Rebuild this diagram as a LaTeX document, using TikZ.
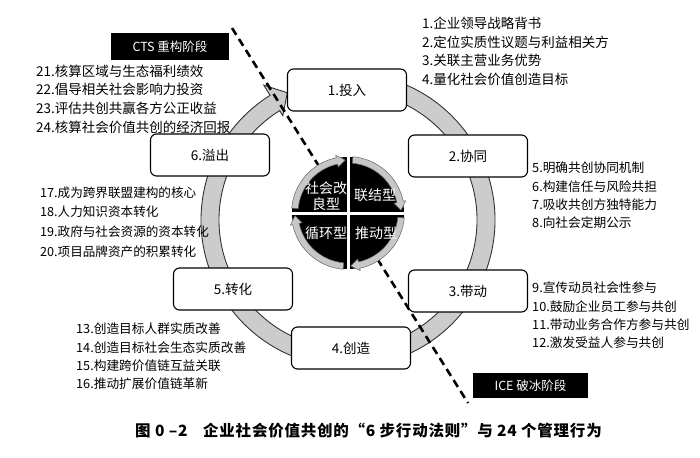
\documentclass[tikz,border=0pt]{standalone}
\usepackage{fontspec}
\setmainfont{Noto Sans CJK SC}
\begin{document}
\begin{tikzpicture}[x=1pt,y=-1pt,
  stepbox/.style={draw=black,line width=1.1pt,rounded corners=6pt,fill=white,minimum width=119pt,minimum height=42pt,inner sep=0pt,font=\fontsize{13.5}{16}\selectfont},
  listtext/.style={anchor=west,align=left,inner sep=0pt,font=\fontsize{13.5}{18.7}\selectfont},
  smalllist/.style={listtext,font=\fontsize{12.7}{18.4}\selectfont},
  phase/.style={fill=black,text=white,inner sep=0pt,font=\fontsize{12.5}{15}\selectfont},
  disctext/.style={text=white,align=center,inner sep=0pt,font=\fontsize{14}{17}\selectfont},
  ringfill/.style={fill=black!20,draw=black!80,line width=0.9pt},
  discrim/.style={fill=black!22,draw=black!60,line width=0.5pt},
  divider/.style={line width=2.6pt,dash pattern=on 8pt off 5pt},
  captext/.style={anchor=west,inner sep=0pt,font=\bfseries\fontsize{15.5}{18}\selectfont\addfontfeature{LetterSpace=5}}]
\useasboundingbox (0,0) rectangle (700,457);
\fill[white] (0,0) rectangle (700,457);

% big cycle ring with arrow head
\begin{scope}[shift={(348,220)}]
  \path[ringfill] (-80:147) arc[start angle=-80,end angle=238,radius=147]
    -- (238:159) -- (244.5:141) -- (238:123) -- (238:129)
    arc[start angle=238,end angle=-80,radius=129] -- cycle;
\end{scope}

% dashed divider
\coordinate (dA) at (232,28);
\coordinate (dB) at (468,403);
\draw[divider] (dA) -- (dB);

% central disc
\begin{scope}[shift={(348,213)}]
  \fill[black] (0,0) circle[radius=56];
  \foreach \a in {180,270,0,90}{
    \pgfmathsetmacro{\sa}{\a+5}
    \pgfmathsetmacro{\ea}{\a+78}
    \pgfmathsetmacro{\ta}{\a+87}
    \path[discrim] (\sa:56.5) arc[start angle=\sa,end angle=\ea,radius=56.5]
      -- (\ea:59) -- (\ta:53) -- (\ea:47) -- (\ea:50)
      arc[start angle=\ea,end angle=\sa,radius=50] -- cycle;
  }
  \draw[white,line width=3pt] (-60,0) -- (60,0) (0,-60) -- (0,60);
\end{scope}
\node[disctext] (q1) at (326,196) {社会改\\[-1pt]良型};
\node[disctext] (q2) at (375,195) {联结型};
\node[disctext] (q3) at (326,233) {循环型};
\node[disctext] (q4) at (376,233) {推动型};

% step boxes
\node[stepbox] (s1) at (347,90) {1.投入};
\node[stepbox] (s2) at (468,156) {2.协同};
\node[stepbox] (s3) at (468,291) {3.带动};
\node[stepbox] (s4) at (351,348) {4.创造};
\node[stepbox] (s5) at (233,289) {5.转化};
\node[stepbox] (s6) at (210,155) {6.溢出};

% lists
\node[listtext] (l1) at (422,51.5) {1.企业领导战略背书\\2.定位实质性议题与利益相关方\\3.关联主营业务优势\\4.量化社会价值创造目标};
\node[smalllist] (l2) at (532,195.5) {5.明确共创协同机制\\6.构建信任与风险共担\\7.吸收共创方独特能力\\8.向社会定期公示};
\node[smalllist] (l3) at (532,315.5) {9.宣传动员社会性参与\\10.鼓励企业员工参与共创\\11.带动业务合作方参与共创\\12.激发受益人参与共创};
\node[smalllist] (l4) at (76,356.5) {13.创造目标人群实质改善\\14.创造目标社会生态实质改善\\15.构建跨价值链互益关联\\16.推动扩展价值链革新};
\node[smalllist,font=\fontsize{12.6}{19.8}\selectfont] (l5) at (40,222) {17.成为跨界联盟建构的核心\\18.人力知识资本转化\\19.政府与社会资源的资本转化\\20.项目品牌资产的积累转化};
\node[listtext] (l6) at (36,99) {21.核算区域与生态福利绩效\\22.倡导相关社会影响力投资\\23.评估共创共赢各方公正收益\\24.核算社会价值共创的经济回报};

% phase labels
\node[phase,minimum width=118pt,minimum height=27pt] (cts) at (170,46.5) {CTS 重构阶段};
\node[phase,minimum width=115pt,minimum height=25pt] (ice) at (530.5,385.5) {ICE 破冰阶段};

% caption
\node[captext] (cap1) at (135,431) {图 0 –2};
\node[captext] (cap2) at (203,431) {企业社会价值共创的“6 步行动法则”与 24 个管理行为};
\end{tikzpicture}
\end{document}
